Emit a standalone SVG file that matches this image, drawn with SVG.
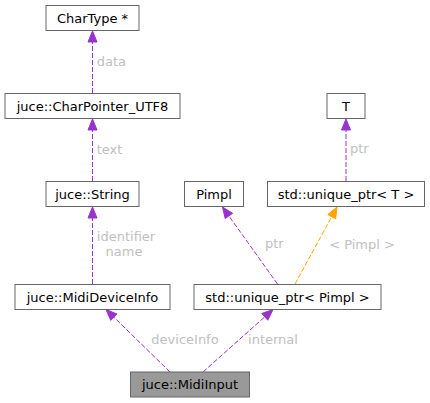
<svg xmlns="http://www.w3.org/2000/svg" width="430" height="403" viewBox="0 0 430 403">
<style>
.box{fill:#ffffff;stroke:#666666;stroke-width:1}
.cur{fill:#999999;stroke:#666666;stroke-width:1}
.nt{font-family:"DejaVu Sans",sans-serif;font-size:13px;fill:#000000;text-anchor:middle}
.el{font-family:"DejaVu Sans",sans-serif;font-size:13px;fill:#c0c0c0}
.ep{fill:none;stroke:#9a32cd;stroke-width:1;stroke-dasharray:5,2}
.eo{fill:none;stroke:#ffa500;stroke-width:1;stroke-dasharray:5,2}
.hp{fill:#9a32cd;stroke:#9a32cd;stroke-width:1}
.ho{fill:#ffa500;stroke:#ffa500;stroke-width:1}
</style>
<rect width="430" height="403" fill="#ffffff"/>
<g id="edges">
<path class="ep" d="M92.5,93 L92.5,42"/>
<polygon class="hp" points="92.5,31 88,42 97,42"/>
<text class="el" x="96.7" y="65.5">data</text>
<path class="ep" d="M92.5,181 L92.5,130"/>
<polygon class="hp" points="92.5,119 88,130 97,130"/>
<text class="el" x="96.7" y="153.5">text</text>
<path class="ep" d="M92.5,284 L92.5,218"/>
<polygon class="hp" points="92.5,207 88,218 97,218"/>
<text class="el" x="126" y="241.3" text-anchor="middle">identifier</text>
<text class="el" x="124" y="256" text-anchor="middle">name</text>
<path class="ep" d="M346,181 L346,130"/>
<polygon class="hp" points="346,119 341.5,130 350.5,130"/>
<text class="el" x="350" y="152.5">ptr</text>
<path class="ep" d="M277.5,284 L228.9,216"/>
<polygon class="hp" points="222.5,207 232.6,213.3 225.2,218.6"/>
<text class="el" x="265" y="248">ptr</text>
<path class="eo" d="M295,284 L331.7,216.7"/>
<polygon class="ho" points="337,207 335.7,218.8 327.8,214.5"/>
<text class="el" x="362" y="248.5" text-anchor="middle">&lt; Pimpl &gt;</text>
<path class="ep" d="M170,372 L113.9,317.2"/>
<polygon class="hp" points="106,309.5 117,314 110.8,320.4"/>
<text class="el" x="185" y="343.5" text-anchor="middle">deviceInfo</text>
<path class="ep" d="M203,372 L264.8,316.8"/>
<polygon class="hp" points="273,309.5 267.8,320.2 261.8,313.5"/>
<text class="el" x="273" y="343.5" text-anchor="middle">internal</text>
</g>
<g id="chartype"><rect class="box" x="46" y="5.5" width="93" height="25"/><text class="nt" x="92.5" y="22.7">CharType *</text></g>
<g id="charpointer"><rect class="box" x="5" y="93.5" width="175" height="25"/><text class="nt" x="92.5" y="110.7">juce::CharPointer_UTF8</text></g>
<g id="string"><rect class="box" x="46" y="181.5" width="93" height="25"/><text class="nt" x="92.5" y="198.7">juce::String</text></g>
<g id="pimpl"><rect class="box" x="184.5" y="181.5" width="59" height="25"/><text class="nt" x="214" y="198.7">Pimpl</text></g>
<g id="uptrT"><rect class="box" x="267.5" y="181.5" width="157" height="25"/><text class="nt" x="346" y="198.7">std::unique_ptr&lt; T &gt;</text></g>
<g id="T"><rect class="box" x="327" y="93.5" width="38" height="25"/><text class="nt" x="346" y="110.7">T</text></g>
<g id="mididevinfo"><rect class="box" x="15" y="284.5" width="155" height="25"/><text class="nt" x="92.5" y="301.7">juce::MidiDeviceInfo</text></g>
<g id="uptrPimpl"><rect class="box" x="194" y="284.5" width="187" height="25"/><text class="nt" x="287.5" y="301.7">std::unique_ptr&lt; Pimpl &gt;</text></g>
<g id="midiinput"><rect class="cur" x="130.5" y="372" width="119" height="25"/><text class="nt" x="190" y="389.2">juce::MidiInput</text></g>
</svg>
